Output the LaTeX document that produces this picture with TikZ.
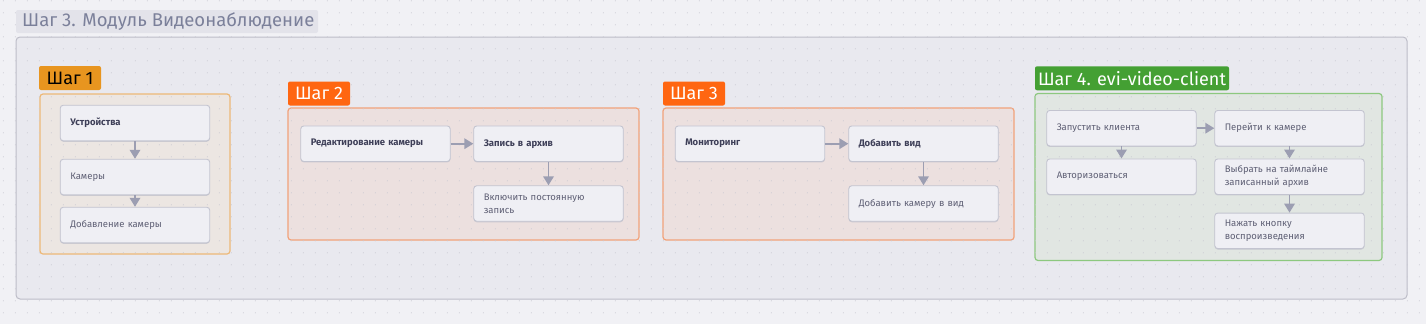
\documentclass[tikz,border=0pt]{standalone}
\usepackage{fontspec}
\setmainfont{Fira Sans}
\usetikzlibrary{arrows.meta,shadows}
\definecolor{pagebg}{HTML}{F1F1F5}
\definecolor{outerfill}{HTML}{E9E9EF}
\definecolor{outerborder}{HTML}{BDBDC8}
\definecolor{titlebg}{HTML}{E3E3EA}
\definecolor{titletext}{HTML}{7B809A}
\definecolor{gonefill}{HTML}{ECE6E2}
\definecolor{goneborder}{HTML}{EDB877}
\definecolor{gtwofill}{HTML}{ECE0DF}
\definecolor{gtwoborder}{HTML}{F2A27A}
\definecolor{gfourfill}{HTML}{E1E6E2}
\definecolor{gfourborder}{HTML}{8DC87F}
\definecolor{badgeone}{HTML}{E8951F}
\definecolor{badgetwo}{HTML}{FF6611}
\definecolor{badgefour}{HTML}{44A033}
\definecolor{nodefill}{HTML}{EFEFF4}
\definecolor{nodeborder}{HTML}{C3C4D0}
\definecolor{boldtext}{HTML}{3E3F58}
\definecolor{normtext}{HTML}{5F6075}
\definecolor{arrowcol}{HTML}{9C9EB2}
\definecolor{dotcol}{HTML}{C9C9D2}
\definecolor{shadowcol}{HTML}{B8B8C4}
\begin{document}
\begin{tikzpicture}[x=1pt,y=-1pt,
  stepbox/.style={draw=nodeborder, fill=nodefill, rounded corners=3pt, line width=0.9pt,
    minimum height=35.5pt, text width=129.5pt, inner xsep=10pt, inner ysep=2pt,
    align=left, font=\fontsize{9.5}{13}\selectfont, text=normtext,
    drop shadow={shadow xshift=0pt, shadow yshift=-1pt, fill=shadowcol, opacity=0.6}},
  boldbox/.style={stepbox, font=\fontsize{9.5}{13}\selectfont\bfseries, text=boldtext},
  badge/.style={rounded corners=2pt, minimum height=24pt, inner sep=0pt,
    font=\fontsize{18}{20}\selectfont},
  arr/.style={draw=arrowcol, line width=1.8pt, -{Triangle[width=10.5pt,length=9pt]}},
  grp/.style={rounded corners=3pt, line width=1.2pt}]
\useasboundingbox (0,0) rectangle (1426,324);
\fill[pagebg] (0,0) rectangle (1426,324);
% outer group
\draw[fill=outerfill, draw=outerborder, line width=1pt, rounded corners=4pt] (16,37) rectangle (1407,299);
% inner groups
\draw[grp, fill=gonefill, draw=goneborder] (40,94) rectangle (230,254);
\draw[grp, fill=gtwofill, draw=gtwoborder] (288,108) rectangle (639,240);
\draw[grp, fill=gtwofill, draw=gtwoborder] (663,108) rectangle (1014,240);
\draw[grp, fill=gfourfill, draw=gfourborder] (1035,93.5) rectangle (1382,260.5);
% dot grid
\foreach \i in {0,...,118}{
  \foreach \j in {0,...,26}{
    \fill[dotcol] (3.3+12*\i,0.8+12*\j) circle (0.55pt);
  }
}
% title
\fill[titlebg, rounded corners=2pt] (16,10) rectangle (318,33);
\node[anchor=west, inner sep=0pt, text=titletext, font=\fontsize{18.5}{20}\selectfont] (title) at (22,21.5) {Шаг 3. Модуль Видеонаблюдение};
% badges
\node[badge, fill=badgeone, text=black, minimum width=62pt] (b1) at (70,78) {Шаг 1};
\node[badge, fill=badgetwo, text=white, minimum width=62pt] (b2) at (319,93.5) {Шаг 2};
\node[badge, fill=badgetwo, text=white, minimum width=62pt] (b3) at (694,93.5) {Шаг 3};
\node[badge, fill=badgefour, text=white, minimum width=194pt] (b4) at (1132,78.3) {Шаг 4. evi-video-client};
% group 1
\node[boldbox] (ustr) at (135,123) {Устройства};
\node[stepbox] (kam) at (135,177) {Камеры};
\node[stepbox] (dobk) at (135,225) {Добавление камеры};
\draw[arr] (ustr) -- (kam);
\draw[arr] (kam) -- (dobk);
% group 2
\node[boldbox] (red) at (375.5,143.7) {Редактирование камеры};
\node[boldbox] (zap) at (548.5,143.7) {Запись в архив};
\node[stepbox] (vkl) at (548.5,203.5) {Включить постоянную\\запись};
\draw[arr] (red) -- (zap);
\draw[arr] (zap) -- (vkl);
% group 3
\node[boldbox] (mon) at (750,143.7) {Мониторинг};
\node[boldbox] (dvid) at (923.5,143.7) {Добавить вид};
\node[stepbox] (dkam) at (923.5,203.5) {Добавить камеру в вид};
\draw[arr] (mon) -- (dvid);
\draw[arr] (dvid) -- (dkam);
% group 4
\node[stepbox] (zapk) at (1121.5,128.2) {Запустить клиента};
\node[stepbox] (avt) at (1121.5,176.7) {Авторизоваться};
\node[stepbox] (per) at (1289.5,128.2) {Перейти к камере};
\node[stepbox] (vyb) at (1289.5,176.7) {Выбрать на таймлайне\\записанный архив};
\node[stepbox] (naj) at (1289.5,230.8) {Нажать кнопку\\воспроизведения};
\draw[arr] (zapk) -- (avt);
\draw[arr] (zapk) -- (per);
\draw[arr] (per) -- (vyb);
\draw[arr] (vyb) -- (naj);
\end{tikzpicture}
\end{document}
